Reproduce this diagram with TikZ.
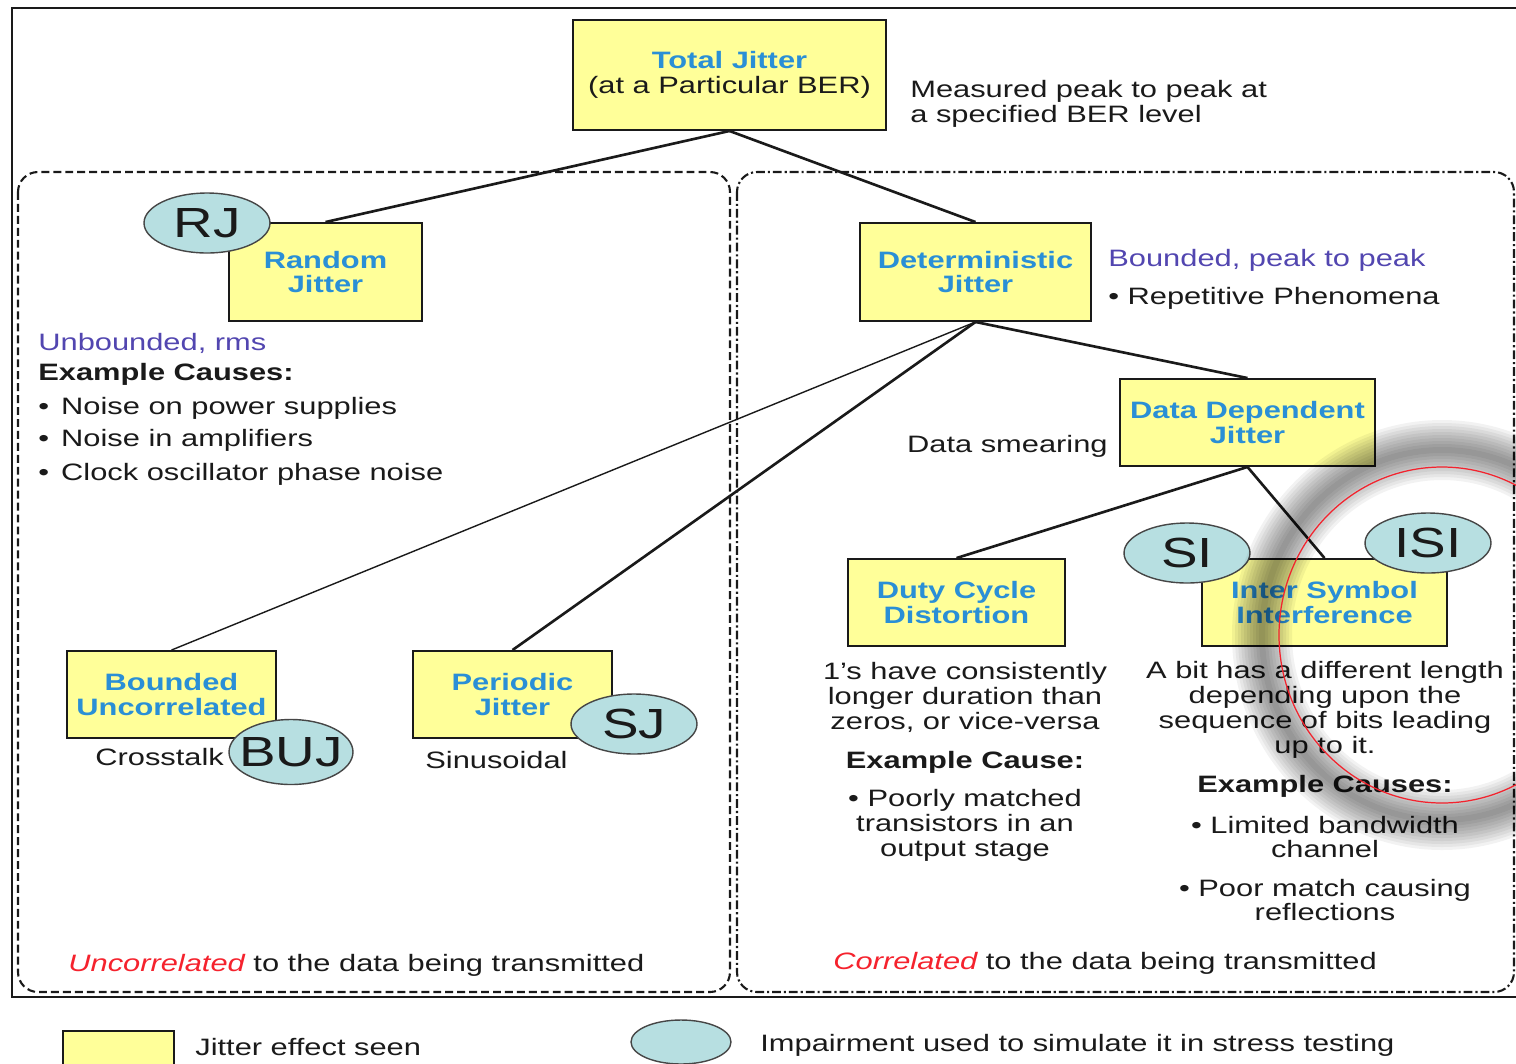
\documentclass[tikz,border=0pt]{standalone}
\usepackage{fontspec}
\setmainfont[FakeStretch=1.3]{Liberation Sans}
\usepackage{tikz}
\usetikzlibrary{positioning,shapes.geometric}
\definecolor{jitfill}{HTML}{FFFF99}
\definecolor{impfill}{HTML}{B7DFE1}
\definecolor{titleblue}{HTML}{2A8FD6}
\definecolor{notepurple}{HTML}{5246B0}
\definecolor{hotred}{HTML}{F5222D}
\definecolor{ink}{HTML}{1A1A1A}

\begin{document}
\begin{tikzpicture}[
    x=0.02cm, y=-0.02cm,
    txt/.style={font=\fontsize{13.5}{14.2}\selectfont, text=ink, inner sep=0pt},
    jbox/.style={draw=ink, line width=1.1pt, fill=jitfill, align=center,
                 font=\bfseries\fontsize{13.5}{14.2}\selectfont,
                 text=titleblue, inner sep=0pt},
    imp/.style={ellipse, draw=gray!55!black, line width=0.8pt, fill=impfill,
                inner sep=0pt, minimum width=2.52cm, minimum height=1.2cm,
                font=\fontsize{24}{24}\selectfont, text=ink},
    link/.style={draw=ink, line width=1.5pt},
]
\useasboundingbox (0,0) rectangle (1516,1063);
\clip (0,0) rectangle (1516,1063);

% frame and the two groups
\draw[ink, line width=1.1pt] (12,8) rectangle (1560,997);
\draw[ink, line width=1.2pt, rounded corners=0.4cm,
      dash pattern=on 4.5pt off 2.3pt] (18,172) rectangle (730,992);
\draw[ink, line width=1.2pt, rounded corners=0.4cm,
      dash pattern=on 5pt off 1.7pt on 1.2pt off 1.7pt] (737,172) rectangle (1514,992);

% jitter boxes
\node[jbox, minimum width=6.26cm, minimum height=2.2cm]
    (tj) at (729.5,75) {Total Jitter\\\mdseries\color{ink}(at a Particular BER)};
\node[jbox, minimum width=3.86cm, minimum height=1.96cm]
    (rjbox) at (325.5,272) {Random\\Jitter};
\node[jbox, minimum width=4.62cm, minimum height=1.96cm]
    (djbox) at (975.5,272) {Deterministic\\Jitter};
\node[jbox, minimum width=5.1cm, minimum height=1.74cm]
    (ddjbox) at (1247.5,422.5) {Data Dependent\\Jitter};
\node[jbox, minimum width=4.18cm, minimum height=1.74cm]
    (bujbox) at (171.5,694.5) {Bounded\\Uncorrelated};
\node[jbox, minimum width=3.98cm, minimum height=1.74cm]
    (pjbox) at (512.5,694.5) {Periodic\\Jitter};
\node[jbox, minimum width=4.34cm, minimum height=1.74cm]
    (dcdbox) at (956.5,602.5) {Duty Cycle\\Distortion};
\node[jbox, minimum width=4.9cm, minimum height=1.74cm]
    (isibox) at (1324.5,602.5) {Inter Symbol\\Interference};

% impairments
\node[imp] (rj) at (207,223) {\makebox[0pt]{RJ}};
\node[imp, minimum width=2.48cm, minimum height=1.3cm] (buj) at (291,752) {\makebox[0pt]{BUJ}};
\node[imp] (sj) at (634,724) {\makebox[0pt]{SJ}};
\node[imp] (si) at (1187,553) {\makebox[0pt]{SI}};
\node[imp] (isi) at (1428,543) {\makebox[0pt]{ISI}};

% tree
\draw[link] (tj.south) -- (rjbox.north);
\draw[link] (tj.south) -- (djbox.north);
\draw[link] (djbox.south) -- (ddjbox.north);
\draw[link] (djbox.south) -- (pjbox.north);
\draw[link, line width=0.8pt] (djbox.south) -- (bujbox.north);
\draw[link] (ddjbox.south) -- (dcdbox.north);
\draw[link] (ddjbox.south) -- (isibox.north);

% notes
\node[txt, anchor=west, align=left] (tjnote) at (910,104)
    {Measured peak to peak at\\a specified BER level};
\node[txt, anchor=west, text=notepurple] (djnote) at (1108,260) {Bounded, peak to peak};
\node[txt, anchor=west] (djrep) at (1108,298) {\textbullet\ Repetitive Phenomena};
\node[txt, anchor=west, text=notepurple] (rjnote) at (38,343) {Unbounded, rms};
\node[txt, anchor=west, font=\bfseries\fontsize{13.5}{14.2}\selectfont]
    (rjcauses) at (38,374) {Example Causes:};
\node[txt, anchor=west] (rjc1) at (38,408) {\makebox[13pt][l]{\textbullet}Noise on power supplies};
\node[txt, anchor=west] (rjc2) at (38,440) {\makebox[13pt][l]{\textbullet}Noise in amplifiers};
\node[txt, anchor=west] (rjc3) at (38,474) {\makebox[13pt][l]{\textbullet}Clock oscillator phase noise};
\node[txt, anchor=east] (smear) at (1108,446) {Data smearing};
\node[txt, anchor=west] (xtalk) at (95,757) {Crosstalk};
\node[txt, anchor=west] (sinus) at (425,760) {Sinusoidal};

\node[txt, align=center] (dcdnote) at (965,697.5)
    {1’s have consistently\\longer duration than\\zeros, or vice-versa};
\node[txt, font=\bfseries\fontsize{13.5}{14.2}\selectfont] (dcdcause) at (965,762) {Example Cause:};
\node[txt, align=center] (dcdc1) at (965,825)
    {\textbullet\ Poorly matched\\transistors in an\\output stage};

\node[txt, align=center] (isinote) at (1325,709.5)
    {A bit has a different length\\depending upon the\\sequence of bits leading\\up to it.};
\node[txt, font=\bfseries\fontsize{13.5}{14.2}\selectfont] (isicause) at (1325,786) {Example Causes:};
\node[txt, align=center] (isic1) at (1325,837) {\textbullet\ Limited bandwidth\\channel};
\node[txt, align=center] (isic2) at (1325,900) {\textbullet\ Poor match causing\\reflections};

\node[txt, anchor=west] (uncorr) at (68,965)
    {\textcolor{hotred}{\itshape Uncorrelated} to the data being transmitted};
\node[txt, anchor=west] (corr) at (833,963)
    {\textcolor{hotred}{\itshape Correlated} to the data being transmitted};

% legend
\node[jbox, minimum width=2.22cm, minimum height=1cm, anchor=north west] (keybox) at (62,1030) {};
\node[txt, anchor=west] (keyboxtxt) at (195,1047) {Jitter effect seen};
\node[imp, minimum width=2cm, minimum height=0.88cm] (keyimp) at (681,1042) {};
\node[txt, anchor=west] (keyimptxt) at (760,1045) {Impairment used to simulate it in stress testing};

% lens round ISI
\foreach \w in {6,12,...,60}
    \draw[black, opacity=0.05, line width=\w*0.02cm] (1442,635) ellipse [x radius=180, y radius=185];
\draw[hotred, line width=0.7pt] (1442,635) ellipse [x radius=163, y radius=168];
\end{tikzpicture}
\end{document}
